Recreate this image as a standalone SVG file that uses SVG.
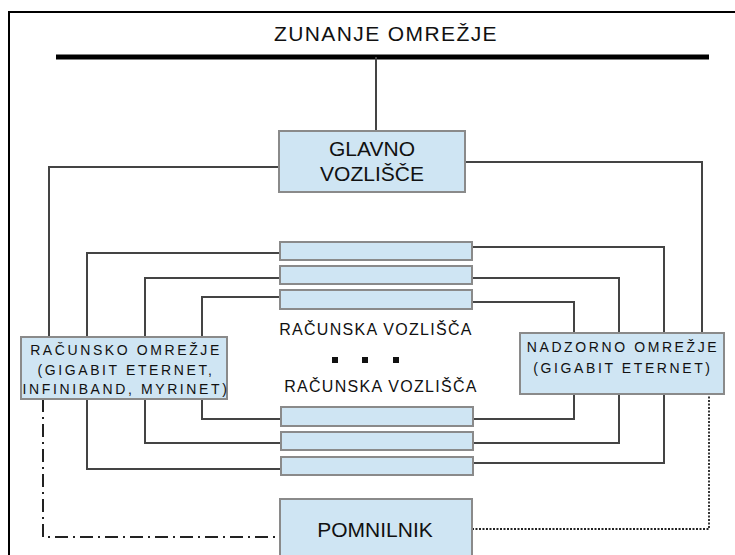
<svg xmlns="http://www.w3.org/2000/svg" width="735" height="555" viewBox="0 0 735 555">
<style>
.box{fill:#cfe5f3;stroke:#8a8a8a;stroke-width:2}
.con{fill:none;stroke:#444;stroke-width:2}
.t{font-family:"Liberation Sans",Arial,sans-serif;fill:#111;text-anchor:middle}
.big{font-size:21px}
.sm{font-size:14px;letter-spacing:2.6px}
.mid{font-size:16px;letter-spacing:1.3px}
</style>
<rect width="735" height="555" fill="#fff"/>
<path d="M9,555 V12 H735" fill="none" stroke="#000" stroke-width="2"/>
<g id="zunanje">
<text class="t big" x="386" y="41" letter-spacing="1.4">ZUNANJE OMREŽJE</text>
<line x1="56" y1="57" x2="709" y2="57" stroke="#000" stroke-width="5"/>
</g>
<g id="connectors">
<path class="con" d="M376,57 V131"/>
<path class="con" d="M279,167 H49 V337"/>
<path class="con" d="M465,162 H702 V333"/>
<path class="con" d="M280,253 H87 V337"/>
<path class="con" d="M280,278 H145 V337"/>
<path class="con" d="M280,297 H202 V337"/>
<path class="con" d="M281,419 H202 V399"/>
<path class="con" d="M281,443 H145 V399"/>
<path class="con" d="M281,469 H87 V399"/>
<path class="con" d="M472,247 H664 V333"/>
<path class="con" d="M472,278 H619 V333"/>
<path class="con" d="M472,302 H574 V333"/>
<path class="con" d="M473,419 H574 V394"/>
<path class="con" d="M473,443 H619 V394"/>
<path class="con" d="M473,463 H664 V394"/>
<path d="M43,399 V537 H280" fill="none" stroke="#222" stroke-width="2" stroke-dasharray="13,5,2,5"/>
<path d="M472,529 H709 V394" fill="none" stroke="#222" stroke-width="1.8" stroke-dasharray="2,1.5"/>
</g>
<g id="glavno">
<rect class="box" x="279" y="131" width="186" height="61"/>
<text class="t big" x="372" y="156">GLAVNO</text>
<text class="t big" x="372" y="181">VOZLIŠČE</text>
</g>
<g id="racunsko">
<rect class="box" x="21" y="337" width="206" height="62"/>
<text class="t sm" x="126" y="355">RAČUNSKO OMREŽJE</text>
<text class="t sm" x="126" y="375">(GIGABIT ETERNET,</text>
<text class="t sm" x="126" y="394">INFINIBAND, MYRINET)</text>
</g>
<g id="nadzorno">
<rect class="box" x="520" y="333" width="204" height="61"/>
<text class="t sm" x="623" y="352">NADZORNO OMREŽJE</text>
<text class="t sm" x="623" y="373">(GIGABIT ETERNET)</text>
</g>
<g id="vozlisca-top">
<rect class="box" x="280" y="242" width="192" height="18"/>
<rect class="box" x="280" y="266" width="192" height="18"/>
<rect class="box" x="280" y="290" width="192" height="19"/>
</g>
<g id="vozlisca-label">
<text class="t mid" x="376" y="335">RAČUNSKA VOZLIŠČA</text>
<rect x="332" y="357" width="6" height="6" fill="#111"/>
<rect x="362" y="357" width="6" height="6" fill="#111"/>
<rect x="393" y="357" width="6" height="6" fill="#111"/>
<text class="t mid" x="381" y="392">RAČUNSKA VOZLIŠČA</text>
</g>
<g id="vozlisca-bottom">
<rect class="box" x="281" y="407" width="192" height="19"/>
<rect class="box" x="281" y="432" width="192" height="18"/>
<rect class="box" x="281" y="457" width="192" height="18"/>
</g>
<g id="pomnilnik">
<rect class="box" x="280" y="499" width="192" height="60"/>
<text class="t big" x="375" y="537">POMNILNIK</text>
</g>
</svg>
